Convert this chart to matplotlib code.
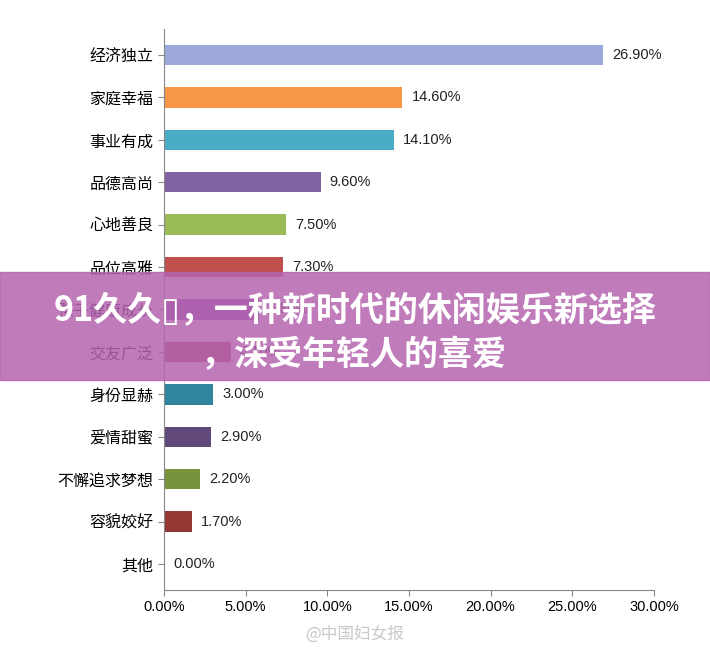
import matplotlib
matplotlib.use("Agg")
import matplotlib.pyplot as plt
from matplotlib.patches import Rectangle
from matplotlib import font_manager as fm

for f in fm.findSystemFonts():
    if "cjk" in f.lower():
        try:
            fm.fontManager.addfont(f)
        except Exception:
            pass
names = sorted({f.name for f in fm.fontManager.ttflist if "CJK" in f.name})
cjk = next((n for n in names if "SC" in n), names[0] if names else "DejaVu Sans")
plt.rcParams["font.family"] = [cjk, "DejaVu Sans"]
NUM = "Liberation Sans"

categories = ["经济独立", "家庭幸福", "事业有成", "品德高尚", "心地善良", "品位高雅",
              "孩子健康成长", "交友广泛", "身份显赫", "爱情甜蜜", "不懈追求梦想", "容貌姣好", "其他"]
values = [26.9, 14.6, 14.1, 9.6, 7.5, 7.3, 5.8, 4.1, 3.0, 2.9, 2.2, 1.7, 0.0]
colors = ["#9DA8D8", "#F79646", "#4BACC6", "#8064A2", "#9BBB59", "#C0504D",
          "#7D4FA3", "#A8455A", "#31859C", "#60497A", "#77933C", "#953735", "#888888"]
xticks = [0, 5, 10, 15, 20, 25, 30]

fig = plt.figure(figsize=(7.10, 6.55), dpi=100)
ax = fig.add_axes([0.231, 0.1, 0.69, 0.855])
y = list(range(len(categories)))[::-1]
ax.barh(y, values, height=0.48, color=colors)
for yi, v in zip(y, values):
    ax.text(v + 0.55, yi, f"{v:.2f}%", va="center", fontsize=10.5, color="#222", family=NUM)
ax.set_yticks(y)
ax.set_yticklabels(categories, fontsize=11.5)
ax.set_xlim(0, 30)
ax.set_ylim(-0.6, len(categories) - 0.4)
ax.set_xticks(xticks)
ax.set_xticklabels([f"{t:.2f}%" for t in xticks], fontsize=10.5, family=NUM)
for s in ["top", "right"]:
    ax.spines[s].set_visible(False)
ax.spines["left"].set_color("#888")
ax.spines["bottom"].set_color("#888")
ax.tick_params(axis="y", length=4, color="#888")
ax.tick_params(axis="x", length=4, color="#888", direction="out")

fig.patches.append(Rectangle((0, 0.42), 1, 0.165, transform=fig.transFigure,
                             color="#B564B0", alpha=0.85, zorder=5))
fig.text(0.075, 0.527, "91久久▯，一种新时代的休闲娱乐新选择", fontsize=24.5, weight="bold",
         color="white", va="center", zorder=6)
fig.text(0.283, 0.459, "，深受年轻人的喜爱", fontsize=24.5, weight="bold",
         color="white", va="center", zorder=6)
fig.text(0.43, 0.025, "@中国妇女报", fontsize=12, color="#bbb", alpha=0.8)
fig.savefig("out.png")
